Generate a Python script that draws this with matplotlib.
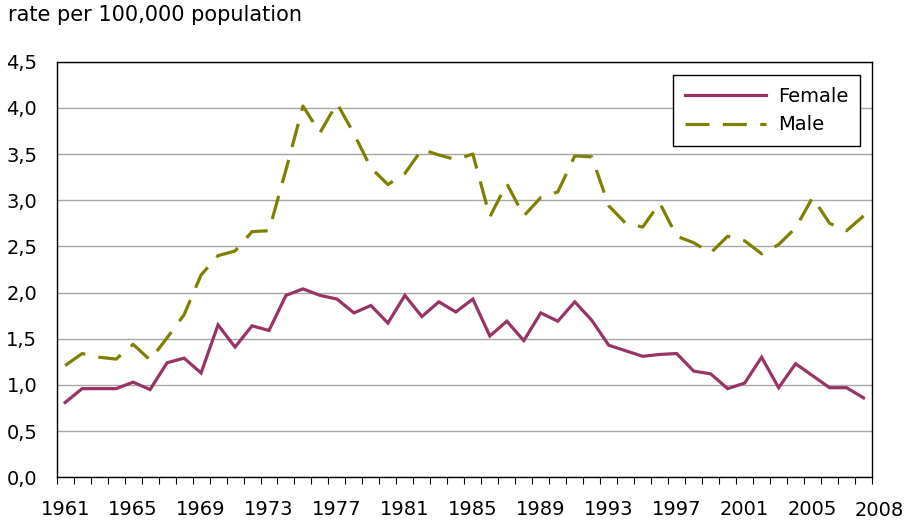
import matplotlib
matplotlib.use("Agg")
import matplotlib.pyplot as plt
from matplotlib.ticker import FixedLocator, FuncFormatter
from matplotlib.transforms import blended_transform_factory

years = list(range(1961, 2009))

female = [0.81, 0.96, 0.96, 0.96, 1.03, 0.95, 1.24, 1.29, 1.13, 1.65,
          1.41, 1.64, 1.59, 1.97, 2.04, 1.97, 1.93, 1.78, 1.86, 1.67,
          1.97, 1.74, 1.90, 1.79, 1.93, 1.53, 1.69, 1.48, 1.78, 1.69,
          1.90, 1.70, 1.43, 1.37, 1.31, 1.33, 1.34, 1.15, 1.12, 0.96,
          1.02, 1.30, 0.97, 1.23, 1.10, 0.97, 0.97, 0.86]

male = [1.21, 1.34, 1.30, 1.28, 1.44, 1.27, 1.51, 1.76, 2.19, 2.40,
        2.45, 2.66, 2.67, 3.33, 4.02, 3.73, 4.05, 3.72, 3.35, 3.17,
        3.29, 3.55, 3.49, 3.44, 3.50, 2.82, 3.18, 2.83, 3.03, 3.09,
        3.48, 3.47, 2.94, 2.75, 2.71, 2.97, 2.61, 2.54, 2.43, 2.61,
        2.56, 2.42, 2.52, 2.70, 3.03, 2.75, 2.67, 2.83]

label_years = list(range(1961, 2006, 4))

fig = plt.figure(figsize=(9.08, 5.23), dpi=100)
ax = fig.add_axes([0.0624, 0.0874, 0.898, 0.7946])

ax.plot(years, female, color="#993366", linewidth=2.3, label="Female",
        solid_joinstyle="miter")
ax.plot(years, male, color="#808000", linewidth=2.3, label="Male",
        dashes=(7.5, 4.2))

ax.set_xlim(1960.5, 2008.5)
ax.set_ylim(0, 4.5)
ax.set_yticks([i * 0.5 for i in range(10)])
ax.yaxis.set_major_formatter(FuncFormatter(lambda v, p: f"{v:.1f}".replace(".", ",")))
ax.grid(axis="y", color="#A6A6A6", linewidth=1.0)
ax.set_axisbelow(True)

# category labels without marks, tick marks between categories
ax.xaxis.set_major_locator(FixedLocator(label_years))
ax.xaxis.set_minor_locator(FixedLocator([y + 0.5 for y in range(1960, 2009)]))
ax.tick_params(axis="x", which="major", length=0, pad=16, labelsize=14)
ax.tick_params(axis="x", which="minor", length=5, width=0.8, direction="out")
ax.tick_params(axis="y", length=0, pad=14, labelsize=14)

trans = blended_transform_factory(ax.transData, ax.transAxes)
ax.text(2008.95, -0.056, "2008", transform=trans, ha="center", va="top",
        fontsize=14, clip_on=False)

for s in ax.spines.values():
    s.set_color("black")
    s.set_linewidth(1.0)

fig.text(8 / 908, 1 - 5 / 523, "rate per 100,000 population", ha="left",
         va="top", fontsize=15)

leg = ax.legend(loc="upper right", bbox_to_anchor=(860 / 908, 1 - 75 / 523),
                bbox_transform=fig.transFigure, borderaxespad=0, fontsize=14,
                handlelength=4.2, handletextpad=0.6, fancybox=False,
                frameon=True, framealpha=1, edgecolor="black",
                borderpad=0.6, labelspacing=0.5)
leg.get_frame().set_linewidth(1.0)

fig.savefig("out.png", dpi=100)
